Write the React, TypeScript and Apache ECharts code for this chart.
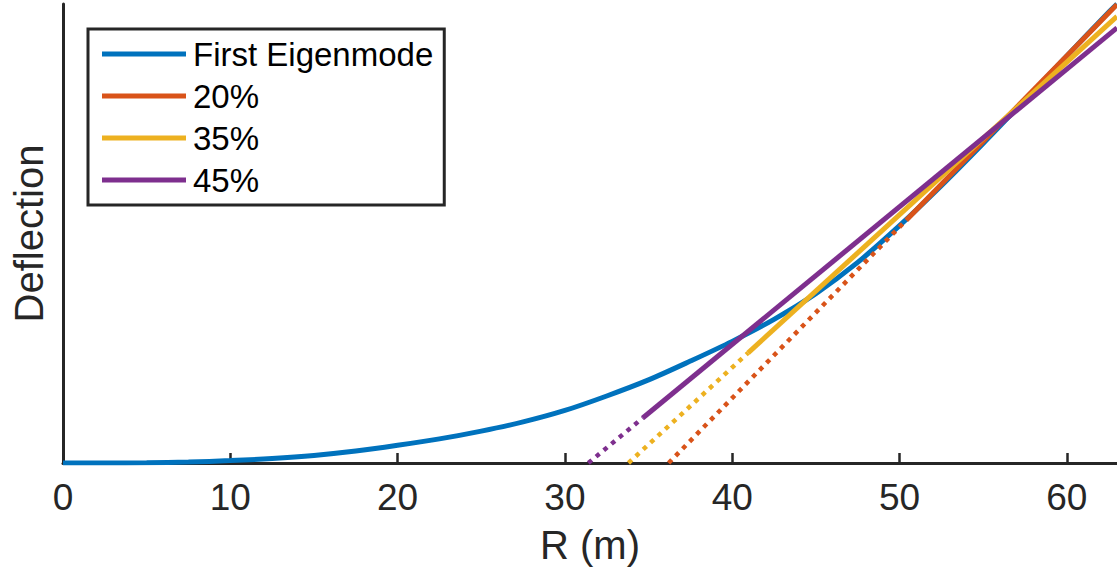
import React, { useEffect, useRef } from "react";
import * as echarts from "echarts";

// Span positions (m) and first-eigenmode deflection (normalised)
const spanR = [0, 2.5, 5, 7.5, 10, 12.5, 15, 17.5, 20, 22.5, 25, 27.5, 30, 32.5, 35, 37.5, 40, 42.5, 45, 47.5, 50, 52.5, 55, 57.5, 60, 62.5, 63];
const eigenDefl = [0, 0.0001, 0.0006, 0.0022, 0.0052, 0.0098, 0.0165, 0.026, 0.0385, 0.0525, 0.0695, 0.0895, 0.1145, 0.146, 0.181, 0.222, 0.265, 0.313, 0.369, 0.437, 0.517, 0.604, 0.696, 0.791, 0.887, 0.982, 1.0];

// Linear fits over the outer 20%, 35%, 45% of the span: [R, deflection] endpoints
const fit20Solid = [[50.4, 0.529], [63, 0.999]];
const fit20Dotted = [[36.2, 0], [50.4, 0.529]];
const fit35Solid = [[40.95, 0.24], [63, 0.973]];
const fit35Dotted = [[33.8, 0], [40.95, 0.24]];
const fit45Solid = [[34.65, 0.098], [63, 0.948]];
const fit45Dotted = [[31.4, 0], [34.65, 0.098]];

const legendNames = ["First Eigenmode", "20%", "35%", "45%"];
const xTicks = [0, 10, 20, 30, 40, 50, 60];

const COLORS = ["#0072BD", "#D95319", "#EDB120", "#7E2F8E"];
const FONT = "'Liberation Sans', Arial, Helvetica, sans-serif";
const AXIS = "#262626";

export default function App() {
  const ref = useRef<HTMLDivElement>(null);
  useEffect(() => {
    if (!ref.current) return;
    const chart = echarts.init(ref.current, null, { renderer: "svg" });
    const solid = (name: string, data: number[][], color: string, w = 5, smooth: boolean | number = false) => ({
      name,
      type: "line",
      data,
      symbol: "none",
      smooth,
      color,
      lineStyle: { color, width: w, cap: "butt" },
      z: 2,
    });
    const dotted = (name: string, data: number[][], color: string) => ({
      name,
      type: "line",
      data,
      symbol: "none",
      color,
      lineStyle: { color, width: 4.5, type: [4.5, 5.5], cap: "butt" },
      z: 2,
    });
    chart.setOption({
      animation: false,
      backgroundColor: "#fff",
      textStyle: { fontFamily: FONT },
      grid: { left: 63, right: 0, top: 4, bottom: 116, containLabel: false },
      legend: {
        data: legendNames,
        orient: "vertical",
        left: 88,
        top: 29,
        padding: [4, 11, 4, 14],
        itemWidth: 84,
        itemHeight: 5,
        itemGap: 0,
        icon: "rect",
        backgroundColor: "#fff",
        borderColor: AXIS,
        borderWidth: 3,
        textStyle: { fontSize: 33, lineHeight: 42, color: "#000", fontFamily: FONT, padding: [0, 0, 0, 2] },
      },
      xAxis: {
        type: "value",
        min: 0,
        max: 63,
        interval: 10,
        name: "R (m)",
        nameLocation: "middle",
        nameGap: 62,
        nameTextStyle: { fontSize: 40, color: AXIS, fontFamily: FONT },
        axisLine: { show: true, lineStyle: { color: AXIS, width: 3 } },
        axisTick: { show: true, inside: true, length: 10, customValues: xTicks, lineStyle: { color: AXIS, width: 2.5 } },
        axisLabel: { fontSize: 37, color: AXIS, margin: 16, fontFamily: FONT, customValues: xTicks },
        splitLine: { show: false },
      },
      yAxis: {
        type: "value",
        min: 0,
        max: 1,
        name: "Deflection",
        nameLocation: "middle",
        nameGap: 14,
        nameRotate: 90,
        nameTextStyle: { fontSize: 40, color: AXIS, fontFamily: FONT },
        axisLine: { show: true, lineStyle: { color: AXIS, width: 3 } },
        axisTick: { show: false },
        axisLabel: { show: false },
        splitLine: { show: false },
      },
      series: [
        solid(legendNames[0], spanR.map((r, i) => [r, eigenDefl[i]]), COLORS[0], 5, 0.3),
        dotted("20% ext", fit20Dotted, COLORS[1]),
        solid(legendNames[1], fit20Solid, COLORS[1]),
        dotted("35% ext", fit35Dotted, COLORS[2]),
        solid(legendNames[2], fit35Solid, COLORS[2]),
        dotted("45% ext", fit45Dotted, COLORS[3]),
        solid(legendNames[3], fit45Solid, COLORS[3]),
      ],
    });
    return () => chart.dispose();
  }, []);
  return <div ref={ref} style={{ position: "fixed", left: 0, top: 0, width: 1117, height: 579 }} />;
}
